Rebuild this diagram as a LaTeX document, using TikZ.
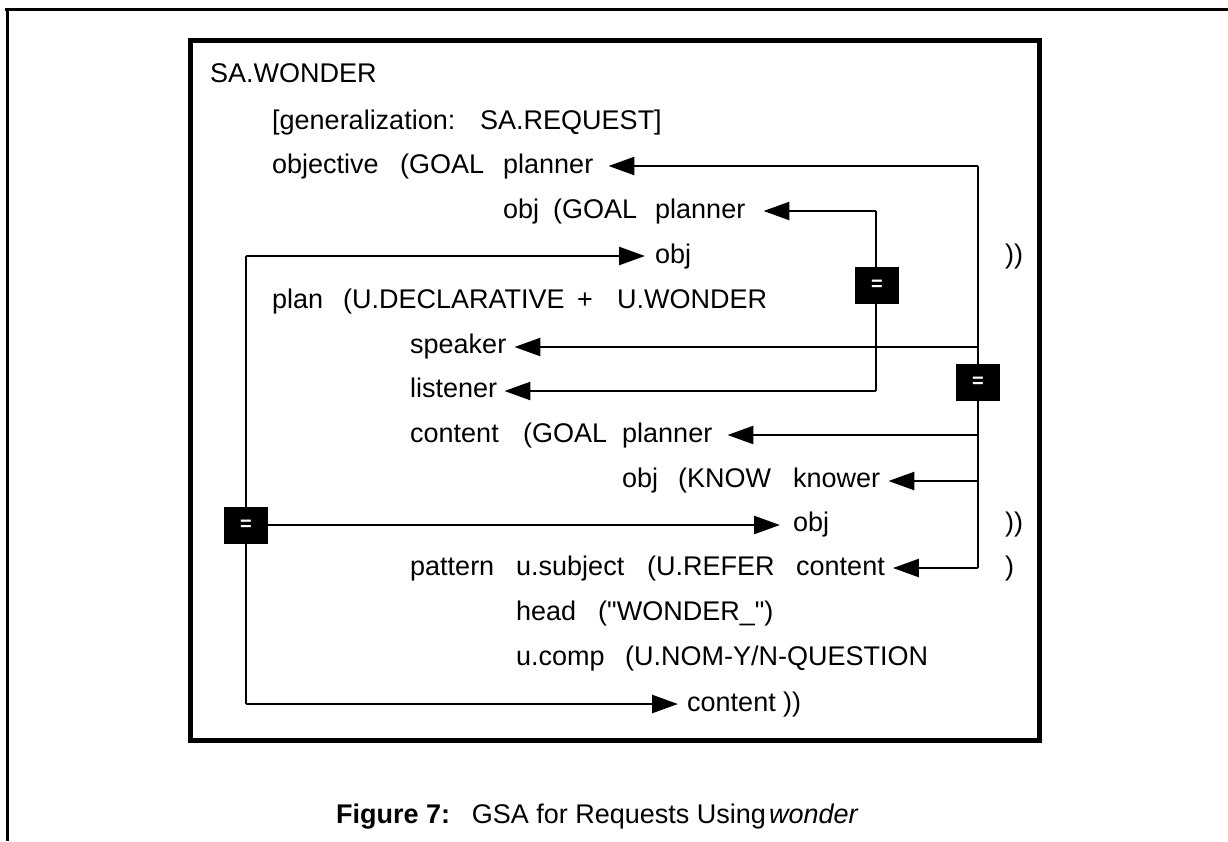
\documentclass[tikz,border=0pt]{standalone}
\usepackage{fontspec}
\setmainfont{Liberation Sans}[Ligatures=TeXOff]
\usetikzlibrary{arrows.meta,calc}
\begin{document}
\begin{tikzpicture}[x=1pt,y=-1pt,
  txt/.style={anchor=base west,inner sep=0pt,font=\fontsize{27}{30}\selectfont},
  conn/.style={line width=2.6pt},
  arr/.style={conn,-{Triangle[length=26pt,width=18pt]}},
  eqbox/.style={fill=black,draw=none,minimum width=44pt,minimum height=37pt,inner sep=0pt,text=white,font=\fontsize{20}{20}\selectfont\bfseries},
  frame/.style={line width=3pt},
  box/.style={line width=5pt}]
\useasboundingbox (0,0) rectangle (1228,841);
\fill[white] (0,0) rectangle (1228,841);
% outer frame and inner box
\draw[frame] (5,9) -- (1228,9);
\draw[frame] (7,9) -- (7,841);
\draw[box] (190,40) rectangle (1039,740);
% text
\node[txt] (t0) at (210,82) {SA.WONDER};
\node[txt] (g1) at (272,129) {[generalization:};
\node[txt] (g2) at (480,129) {SA.REQUEST]};
\node[txt] (a1) at (272,173) {objective};
\node[txt] (a2) at (400,173) {(GOAL};
\node[txt] (p1) at (503,173) {planner};
\node[txt] (b1) at (503,218) {obj};
\node[txt] (b2) at (553,218) {(GOAL};
\node[txt] (p2) at (655,218) {planner};
\node[txt] (o1) at (655,263) {obj};
\node[txt] (rp1) at (1005,263) {))};
\node[txt] (c1) at (272,308) {plan};
\node[txt] (c2) at (343,308) {(U.DECLARATIVE};
\node[txt] (c3) at (577,308) {+};
\node[txt] (c4) at (617,308) {U.WONDER};
\node[txt] (spk) at (410,353) {speaker};
\node[txt] (lst) at (410,397) {listener};
\node[txt] (d1) at (410,442) {content};
\node[txt] (d2) at (523,442) {(GOAL};
\node[txt] (p3) at (622,442) {planner};
\node[txt] (e1) at (622,487) {obj};
\node[txt] (e2) at (678,487) {(KNOW};
\node[txt] (kn) at (793,487) {knower};
\node[txt] (o2) at (793,531) {obj};
\node[txt] (rp2) at (1005,531) {))};
\node[txt] (f1) at (410,575) {pattern};
\node[txt] (f2) at (516,575) {u.subject};
\node[txt] (f3) at (647,575) {(U.REFER};
\node[txt] (ct1) at (796,575) {content};
\node[txt] (rp3) at (1005,575) {)};
\node[txt] (h1) at (516,620) {head};
\node[txt] (h2) at (598,620) {("WONDER\_")};
\node[txt] (u1) at (516,665) {u.comp};
\node[txt] (u2) at (625,665) {(U.NOM-Y/N-QUESTION};
\node[txt] (ct2) at (687,711) {content ))};
% trunk coordinates
\coordinate (tR1) at (978,166);
\coordinate (tR2) at (978,347);
\coordinate (tR3) at (978,435);
\coordinate (tR4) at (978,481);
\coordinate (tR5) at (978,568);
\coordinate (tM1) at (876,211);
\coordinate (tM2) at (876,391);
\coordinate (tL1) at (246,256);
\coordinate (tL2) at (246,525);
\coordinate (tL3) at (246,704);
% trunks
\draw[conn] (tR1) -- (tR5);
\draw[conn] (tM1) -- (tM2);
\draw[conn] (tL1) -- (tL3);
% equality boxes
\node[eqbox] (eq1) at (877,285) {=};
\node[eqbox] (eq2) at (978,382) {=};
\node[eqbox] (eqL) at (tL2) {=};
% arrows from the right trunk
\draw[arr] (tR1) -- ($(p1.east|-tR1)+(15,0)$);
\draw[arr] (tR2) -- ($(spk.east|-tR2)+(8,0)$);
\draw[arr] (tR3) -- ($(p3.east|-tR3)+(15,0)$);
\draw[arr] (tR4) -- ($(kn.east|-tR4)+(8,0)$);
\draw[arr] (tR5) -- ($(ct1.east|-tR5)+(8,0)$);
% arrows from the middle trunk
\draw[arr] (tM1) -- ($(p2.east|-tM1)+(18,0)$);
\draw[arr] (tM2) -- ($(lst.east|-tM2)+(7,0)$);
% arrows from the left trunk
\draw[arr] (tL1) -- ($(o1.west|-tL1)+(-10,0)$);
\draw[arr] (eqL.east) -- ($(o2.west|-eqL.east)+(-13,0)$);
\draw[arr] (tL3) -- ($(ct2.west|-tL3)+(-9,0)$);
% caption
\node[anchor=base west,inner sep=0pt,font=\fontsize{27}{29}\selectfont] (cap) at (336,823) {\textbf{Figure 7:}\hspace{0.8em}GSA for Requests Using\hspace{0.12em}\textit{wonder}};
\end{tikzpicture}
\end{document}
